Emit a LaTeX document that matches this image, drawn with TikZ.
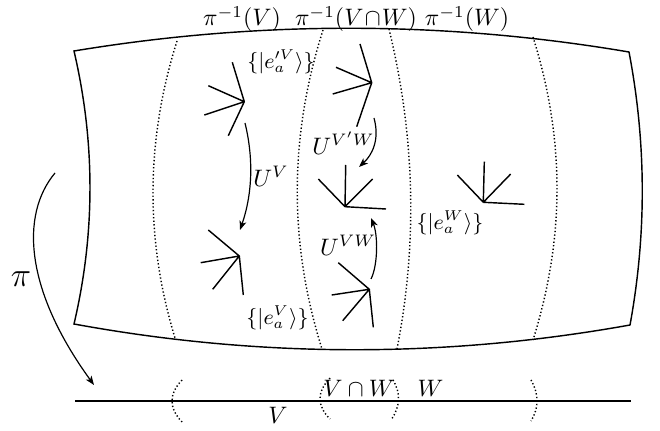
\documentclass[tikz,border=0pt]{standalone}
\usepackage{amsmath,amssymb}
\usetikzlibrary{arrows.meta}

\tikzset{
  sheet/.style={line width=0.6pt},
  fibre/.style={line width=0.6pt, dash pattern=on 0.55pt off 0.95pt},
  frm/.style={line width=0.6pt},
  trans/.style={line width=0.5pt, ->},
  toplbl/.style={font=\fontsize{9.6}{11}\selectfont},
  framelbl/.style={font=\small},
}

\begin{document}
\begin{tikzpicture}[x=0.42pt, y=-0.42pt, >={Stealth[length=3.8pt, width=2.9pt, inset=1pt]}]

\useasboundingbox (0,0) rectangle (660,431);

% Bundle sheet
\draw[sheet] (74,51) .. controls (259.3,20.3) and (444.3,20.7) .. (629,52)
  .. controls (646.3,142.7) and (646.7,233.7) .. (630,325)
  .. controls (444.7,358.3) and (259.3,358) .. (74,324)
  .. controls (95.3,233.3) and (95.3,142.3) .. (74,51) -- cycle;

% Fibres over the patch boundaries
\draw[fibre] (177,41) .. controls (145.7,140.3) and (145,239.3) .. (175,338);
\draw[fibre] (323,30) .. controls (289,136.7) and (288.7,243) .. (322,349);
\draw[fibre] (389,29) .. controls (415,136.3) and (417.7,243) .. (397,349);
\draw[fibre] (533,37) .. controls (565,139) and (565,238) .. (533,340);

% Top labels
\node[toplbl] (piV) at (242,19) {$\pi^{-1}(V)$};
\node[toplbl] (piVW) at (356,19) {$\pi^{-1}(V\mskip1mu{\cap}\mskip1mu W)$};
\node[toplbl] (piW) at (467,19) {$\pi^{-1}(W)$};

% --- Frames ---
\coordinate (fA) at (244.3,101.7);
\draw[frm] (fA) -- (232.3,62.3) (fA) -- (208.3,85.7) (fA) -- (204.3,115) (fA) -- (228.3,135.7);
\coordinate (fB) at (371.7,82.7);
\draw[frm] (fB) -- (360,44) (fB) -- (336,67.3) (fB) -- (332.7,94) (fB) -- (356.7,126.7);
\coordinate (fC) at (239.3,256);
\draw[frm] (fC) -- (208.3,230) (fC) -- (200.7,262.7) (fC) -- (212.7,289.3) (fC) -- (243.3,295);
\coordinate (fD) at (369.3,289.3);
\draw[frm] (fD) -- (338.3,262.7) (fD) -- (331.7,295) (fD) -- (342.7,320.7) (fD) -- (373.3,327.3);
\coordinate (fE) at (345,206.7);
\draw[frm] (fE) -- (345.7,165) (fE) -- (318.3,179) (fE) -- (372.7,179) (fE) -- (386,209);
\coordinate (fF) at (483.3,202.3);
\draw[frm] (fF) -- (484.3,161.7) (fF) -- (457.3,175) (fF) -- (510.7,174) (fF) -- (524.3,204.3);

% Frame labels
\node[framelbl] (eVp) at (281,62) {$\{|e'^V_a\rangle\}$};
\node[framelbl] (eV) at (277.5,318) {$\{|e^V_a\rangle\}$};
\node[framelbl] (eW) at (450,223) {$\{|e^W_a\rangle\}$};

% --- Transition maps ---
\coordinate (uvS) at (245,123);
\coordinate (uvE) at (240,230);
\draw[trans] (uvS) .. controls (254,160) and (252,195) .. (uvE);
\node (UV) at (271,176) {$U^V$};

\coordinate (uvwpS) at (374,118);
\coordinate (uvwpE) at (359,167);
\draw[trans] (uvwpS) .. controls (380,140) and (372,155) .. (uvwpE);
\node (UVpW) at (343.5,143) {$U^{V'W}$};

\coordinate (uvwS) at (371,279);
\coordinate (uvwE) at (371,218);
\draw[trans] (uvwS) .. controls (378,265) and (378,235) .. (uvwE);
\node (UVW) at (348,245) {$U^{VW}$};

% --- Projection ---
\coordinate (prS) at (55,173);
\coordinate (prE) at (94,385);
\draw[trans] (prS) .. controls (20,215) and (25,290) .. (prE);
\node[font=\Large] (pi) at (21,279) {$\pi$};

% Base space
\coordinate (bL) at (75,401);
\coordinate (bR) at (631,401);
\draw[sheet] (bL) -- (bR);
\draw[fibre] (182,380) .. controls (168.7,394) and (168.7,408) .. (182,422);
\draw[fibre] (330,378) .. controls (316.7,392) and (316.7,405.7) .. (330,419);
\draw[fibre] (393,380) .. controls (401,393.3) and (400.3,406.7) .. (391,420);
\draw[fibre] (531,380) .. controls (539,394) and (539,408) .. (531,421);

\node (bV) at (278,415) {$V$};
\node (bVW) at (359,388) {$V\cap W$};
\node (bW) at (430.5,388) {$W$};

\end{tikzpicture}
\end{document}
